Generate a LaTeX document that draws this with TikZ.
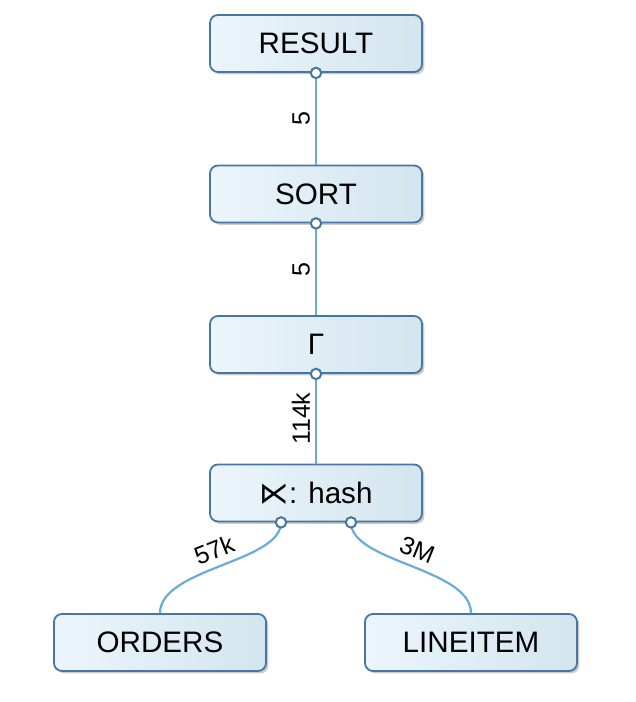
\documentclass[tikz,border=0pt]{standalone}
\usepackage{fontspec}
\setmainfont{Liberation Sans}
\newfontfamily\symfont{DejaVu Sans}
\usetikzlibrary{calc,shadows}

\definecolor{boxline}{RGB}{72,118,158}
\definecolor{boxleft}{RGB}{236,245,252}
\definecolor{boxright}{RGB}{211,229,238}
\definecolor{edgeline}{RGB}{104,172,216}

\tikzset{
	opbox/.style={draw=boxline, line width=0.9pt, rounded corners=4pt,
		left color=boxleft, right color=boxright,
		minimum width=106pt, minimum height=28.5pt, inner sep=0pt,
		font=\fontsize{14.8}{17}\selectfont,
		drop shadow={shadow xshift=1.2pt, shadow yshift=-1.2pt, opacity=0.4}},
	flow/.style={draw=edgeline, line width=1.1pt},
	port/.style={draw=boxline, fill=white, line width=1pt},
	card/.style={font=\fontsize{12.5}{14}\selectfont, inner sep=2.5pt}
}

\begin{document}
\begin{tikzpicture}[x=0.5pt, y=-0.5pt]
		\useasboundingbox (0,0) rectangle (636,702);

		\node[opbox] (result) at (316, 43.5) {RESULT};
		\node[opbox] (sort) at (316, 194) {SORT};
		\node[opbox] (gamma) at (316, 344.5) {Γ};
		\node[opbox] (hash) at (316, 493) {{\symfont ⋉}: hash};
		\node[opbox] (orders) at (160, 642.5) {ORDERS};
		\node[opbox] (lineitem) at (471, 642.5) {LINEITEM};

		\coordinate (hl) at ($(hash.south)+(-35,0)$);
		\coordinate (hr) at ($(hash.south)+(35,0)$);

		\draw[flow] (sort.north) -- (result.south) node[card, midway, sloped, above] {5};
		\draw[flow] (gamma.north) -- (sort.south) node[card, midway, sloped, above] {5};
		\draw[flow] (hash.north) -- (gamma.south) node[card, midway, sloped, above] {114k};
		\draw[flow] (orders.north) .. controls +(0,-45) and +(0,40) .. (hl)
			node[card, midway, sloped, above, yshift=1pt] {57k};
		\draw[flow] (hr) .. controls +(0,40) and +(0,-45) .. (lineitem.north)
			node[card, midway, sloped, above, yshift=1pt] {3M};

		\draw[port] (result.south) circle (2.6pt);
		\draw[port] (sort.south) circle (2.6pt);
		\draw[port] (gamma.south) circle (2.6pt);
		\draw[port] (hl) circle (2.6pt);
		\draw[port] (hr) circle (2.6pt);
	\end{tikzpicture}
\end{document}
